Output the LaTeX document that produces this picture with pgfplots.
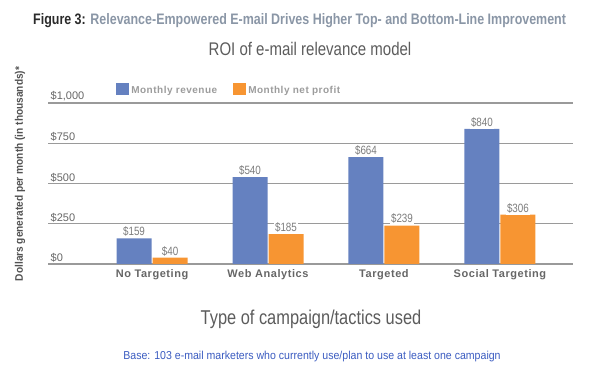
\documentclass[border=0pt]{standalone}
\usepackage{fontspec}
\setmainfont{Liberation Sans}
\newfontfamily\cond{Liberation Sans}[FakeStretch=0.82]
\newfontfamily\semicond{Liberation Sans}[FakeStretch=0.92]
\newfontfamily\spaced{Liberation Sans}[LetterSpace=5]
\usepackage{pgfplots}
\pgfplotsset{compat=1.18}
\definecolor{barblue}{HTML}{6581C0}
\definecolor{barorange}{HTML}{F79532}
\definecolor{gridgrey}{HTML}{9A9A9A}
\definecolor{txtgrey}{HTML}{666666}
\definecolor{lightgrey}{HTML}{9C9C9C}
\definecolor{titlegrey}{HTML}{8A96A6}
\definecolor{baseblue}{HTML}{3A5BC0}
\begin{document}
\begin{tikzpicture}
\path[use as bounding box] (0,0) rectangle (604pt,374pt);
\begin{axis}[
  at={(48pt,110pt)}, anchor=south west,
  scale only axis, width=525pt, height=161pt,
  xmin=-0.897, xmax=3.63, ymin=0, ymax=1000,
  clip=false,
  axis line style={draw=none},
  major tick length=0pt,
  ymajorgrids, major grid style={gridgrey, line width=1.1pt},
  ytick={0,250,500,750,1000},
  yticklabels={\$0,\$250,\$500,\$750,{\$1,000}},
  yticklabel style={anchor=south west, font=\fontsize{11}{12}\selectfont, text=txtgrey, inner sep=1.5pt, xshift=1pt},
  xtick={0,1,2,3},
  xticklabels={No Targeting, Web Analytics, Targeted, Social Targeting},
  xticklabel style={font=\spaced\bfseries\fontsize{11}{12}\selectfont, text=txtgrey, yshift=-2pt},
  /pgf/number format/assume math mode=true,
  ybar=1pt, bar width=35pt,
  nodes near coords={\$\pgfmathprintnumber{\pgfplotspointmeta}},
  nodes near coords style={font=\cond\fontsize{12}{13}\selectfont, text=txtgrey!85, fill=white, inner sep=1.5pt},
  legend columns=2,
  legend style={at={(0.124,1.081)}, anchor=west, draw=none, fill=none,
    font=\spaced\bfseries\fontsize{10}{11}\selectfont, text=lightgrey,
    /tikz/every even column/.append style={column sep=14pt}},
  legend image code/.code={\fill[#1] (0pt,-5pt) rectangle (13pt,7pt);},
]
\addplot[fill=barblue, draw=none] coordinates {(0,159) (1,540) (2,664) (3,840)};
\addplot[fill=barorange, draw=none] coordinates {(0,40) (1,185) (2,239) (3,306)};
\legend{Monthly revenue, Monthly net profit}
\end{axis}
\node[anchor=base west, inner sep=0pt, font=\cond\bfseries\fontsize{15.2}{17}\selectfont] at (33pt,349pt)
  {\textcolor[HTML]{2B2B2B}{Figure 3:} \textcolor{titlegrey}{Relevance-Empowered E-mail Drives Higher Top- and Bottom-Line Improvement}};
\node[anchor=base, inner sep=0pt, font=\cond\fontsize{18.3}{20}\selectfont, text=txtgrey!90!black] at (310pt,318pt) {ROI of e-mail relevance model};
\node[anchor=base, inner sep=0pt, font=\cond\fontsize{20}{22}\selectfont, text=txtgrey!90!black] at (311pt,49pt) {Type of campaign/tactics used};
\node[anchor=base, inner sep=0pt, font=\semicond\fontsize{11.5}{13}\selectfont, text=baseblue] at (312pt,14pt) {Base: 103 e-mail marketers who currently use/plan to use at least one campaign};
\node[rotate=90, inner sep=0pt, font=\semicond\bfseries\fontsize{11}{12}\selectfont, text=txtgrey!80!black] at (20pt,200pt) {Dollars generated per month (in thousands)*};
\end{tikzpicture}
\end{document}
